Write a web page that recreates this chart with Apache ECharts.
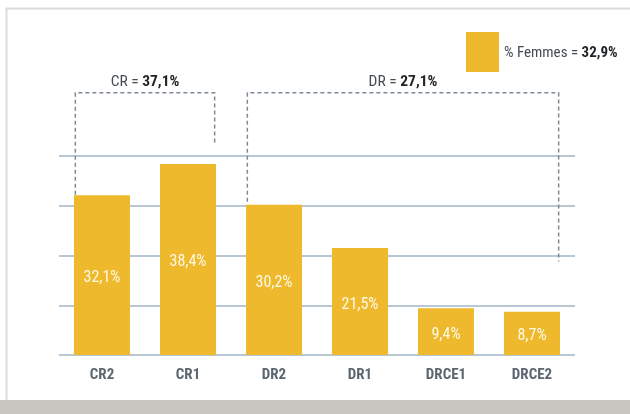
<!DOCTYPE html>
<html>
<head>
<meta charset="utf-8">
<script src="https://cdn.jsdelivr.net/npm/echarts@6/dist/echarts.min.js"></script>
<style>
  html, body { margin: 0; padding: 0; background: #fff; }
  #chart { width: 630px; height: 414px; }
</style>
</head>
<body>
<div id="chart"></div>
<script>
// ---- data ----
var categories = ['CR2', 'CR1', 'DR2', 'DR1', 'DRCE1', 'DRCE2'];
var womenShare = [32.1, 38.4, 30.2, 21.5, 9.4, 8.7];
var seriesName = '% Femmes';
var totalShare = 32.9;
var groupNames = ['CR', 'DR'];
var groupShares = [37.1, 27.1];
var groupFirstIdx = [0, 2];
var groupLastIdx = [1, 5];
var yTicks = [0, 10, 20, 30, 40];

// ---- helpers ----
var FONT = "Roboto, 'Open Sans', sans-serif";
var REG = 'condensed';
var BOLD = 'bold condensed';
function fmt(v) { return v.toFixed(1).replace('.', ',') + '%'; }

var bracketTop = 52.7;
var bracketLeftEnd = [womenShare[0] + 0.1, womenShare[2] + 0.6];
var bracketRightEnd = [42.2, 18.8];

var bracketData = groupNames.map(function (g, i) {
  return [groupFirstIdx[i], groupLastIdx[i], bracketTop, bracketLeftEnd[i], bracketRightEnd[i], i];
});

var chart = echarts.init(document.getElementById('chart'), null, { renderer: 'canvas' });

var option = {
  backgroundColor: '#ffffff',
  animation: false,
  graphic: [
    { type: 'line', shape: { x1: 6, y1: 8.5, x2: 630, y2: 8.5 }, style: { stroke: '#dcdcdc', lineWidth: 2 }, silent: true },
    { type: 'line', shape: { x1: 6.5, y1: 8, x2: 6.5, y2: 400 }, style: { stroke: '#dcdcdc', lineWidth: 2 }, silent: true },
    { type: 'rect', shape: { x: 0, y: 400, width: 630, height: 14 }, style: { fill: '#c9c6c2' }, silent: true }
  ],
  legend: {
    data: [seriesName],
    left: 461,
    top: 27,
    icon: 'rect',
    itemWidth: 33,
    itemHeight: 40,
    selectedMode: false,
    formatter: function (name) {
      return '{n|' + name + ' = }{b|' + fmt(totalShare) + '}';
    },
    textStyle: {
      padding: [3, 0, 0, 0],
      rich: {
        n: { fontFamily: FONT, fontSize: 15, fontWeight: REG, color: '#444b52' },
        b: { fontFamily: FONT, fontSize: 15, fontWeight: BOLD, color: '#1f2326' }
      }
    }
  },
  grid: { left: 59, right: 55, top: 156, bottom: 59 },
  xAxis: {
    type: 'category',
    data: categories,
    axisLine: { show: false },
    axisTick: { show: false },
    axisLabel: {
      margin: 13,
      fontFamily: FONT,
      fontSize: 15,
      fontWeight: BOLD,
      color: '#5c6670'
    }
  },
  yAxis: {
    type: 'value',
    min: yTicks[0],
    max: yTicks[yTicks.length - 1],
    interval: yTicks[1] - yTicks[0],
    axisLabel: { show: false },
    axisLine: { show: false },
    axisTick: { show: false },
    splitLine: { lineStyle: { color: '#9fb6c6', width: 1.5 } }
  },
  series: [
    {
      name: seriesName,
      type: 'bar',
      data: womenShare,
      barWidth: 56,
      itemStyle: { color: '#eeb92c' },
      label: {
        show: true,
        position: 'inside',
        offset: [0, 3],
        fontFamily: FONT,
        fontSize: 16,
        fontWeight: REG,
        color: '#fff8e4',
        formatter: function (p) { return fmt(p.value); }
      },
      z: 2
    },
    {
      type: 'custom',
      name: 'groups',
      data: bracketData,
      silent: true,
      clip: false,
      z: 3,
      encode: { x: [0, 1], y: [2] },
      renderItem: function (params, api) {
        var i0 = api.value(0), i1 = api.value(1);
        var top = api.value(2), lb = api.value(3), rb = api.value(4);
        var gi = api.value(5);
        var half = api.size([1, 0])[0] * 0.31;
        var pTL = api.coord([i0, top]);
        var pLB = api.coord([i0, lb]);
        var pTR = api.coord([i1, top]);
        var pRB = api.coord([i1, rb]);
        var xl = pTL[0] - half, xr = pTR[0] + half;
        var yt = pTL[1];
        var dash = { stroke: '#7d8b96', lineWidth: 1.5, lineDash: [4, 3], fill: null };
        return {
          type: 'group',
          children: [
            { type: 'polyline', shape: { points: [[xl, pLB[1]], [xl, yt], [xr, yt], [xr, pRB[1]]] }, style: dash },
            {
              type: 'text',
              x: (xl + xr) / 2,
              y: yt - 11,
              style: {
                text: '{n|' + groupNames[gi] + ' = }{b|' + fmt(groupShares[gi]) + '}',
                align: 'center',
                verticalAlign: 'middle',
                rich: {
                  n: { fontFamily: FONT, fontSize: 15.5, fontWeight: REG, fill: '#444b52' },
                  b: { fontFamily: FONT, fontSize: 15.5, fontWeight: BOLD, fill: '#1f2326' }
                }
              }
            }
          ]
        };
      }
    }
  ]
};

chart.setOption(option);
</script>
</body>
</html>
